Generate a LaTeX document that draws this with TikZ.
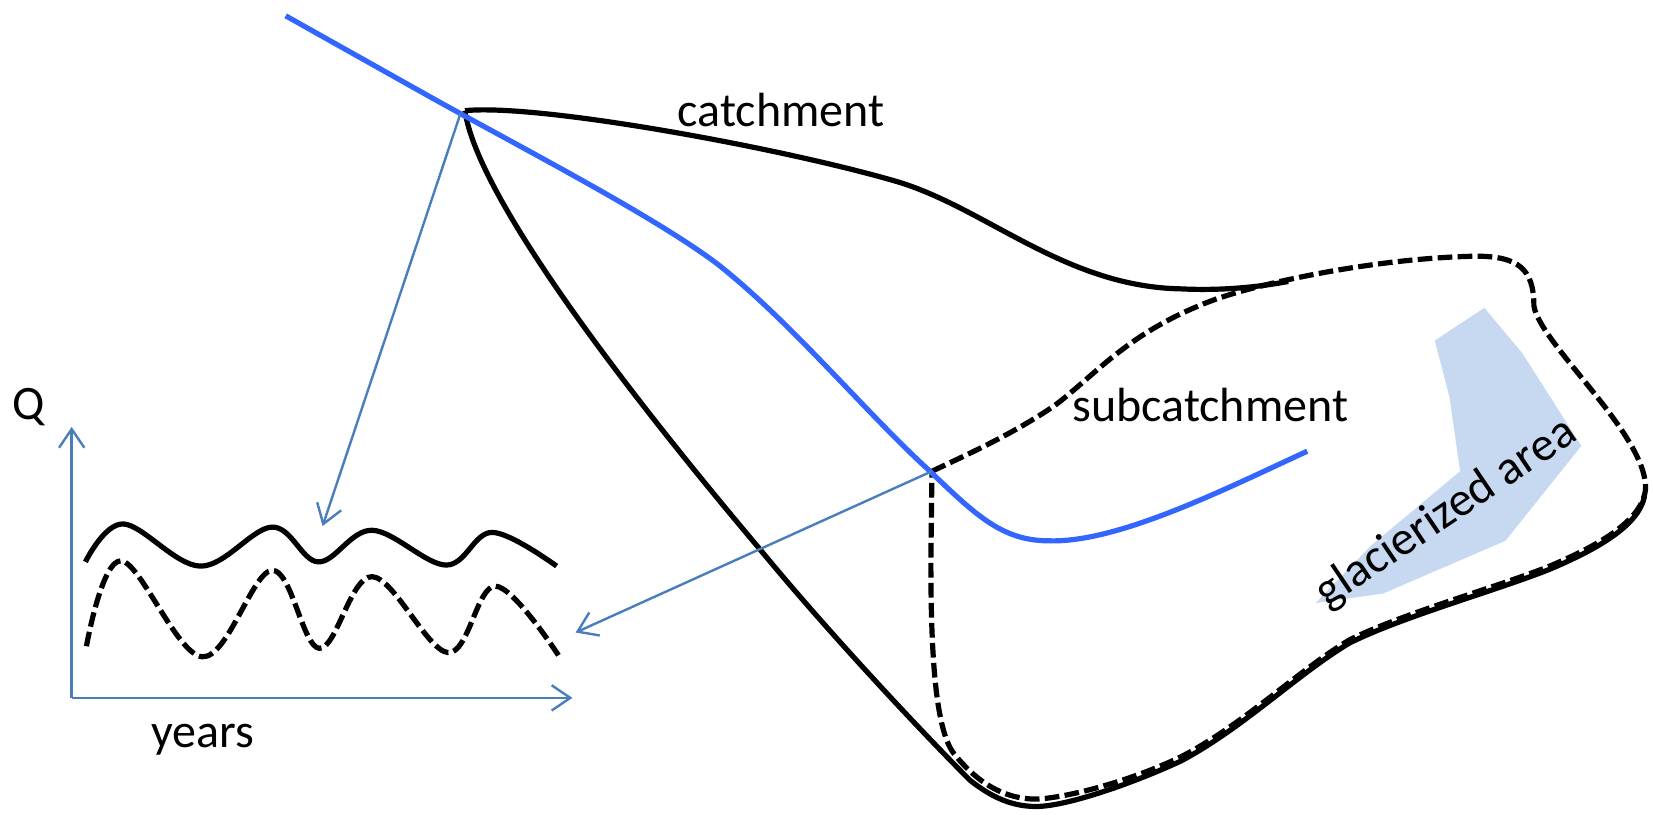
\documentclass[tikz,border=0pt]{standalone}
\usepackage{fontspec}
\setmainfont{Carlito}
\usetikzlibrary{arrows.meta}
\definecolor{river}{HTML}{3366FF}
\definecolor{axisblue}{HTML}{4A7EBB}
\definecolor{ice}{HTML}{C6D9F1}
\tikzset{
  blackline/.style={black,line width=3.9pt,line join=round},
  dashline/.style={black,line width=3.9pt,dash pattern=on 11pt off 4pt,line join=round},
  riverline/.style={river,line width=3.9pt,line join=round},
  pointer/.style={axisblue,line width=1.8pt,-{Straight Barb[length=14pt,width=19pt,line width=1.8pt]}},
  label/.style={font=\fontsize{36}{40}\selectfont,inner sep=0pt,text=black},
}
\begin{document}
\begin{tikzpicture}[x=0.79065pt,y=-0.79065pt]
\useasboundingbox (0,0) rectangle (1568,773);
\coordinate (outlet) at (437,107);
\coordinate (suboutlet) at (884,447);
\coordinate (origin) at (68,662);
\coordinate (qtop) at (68,405);
\coordinate (yearsend) at (543,662);
\coordinate (solidtarget) at (306,499);
\coordinate (dashtarget) at (546,600);
% glacier
\fill[ice] (1361,323) -- (1408,292) -- (1444,335) -- (1500,423) -- (1428,513) -- (1312,563) -- (1248,572) -- (1300,518) -- (1385,447) -- (1375,377) -- cycle;
% catchment, solid
\draw[blackline] (441,105) .. controls (510,98) and (740,140) .. (850,172)
  .. controls (935,197) and (1010,272) .. (1120,274)
  .. controls (1160,276) and (1195,272) .. (1222,267);
\draw[blackline] (441,105) .. controls (455,200) and (640,425) .. (720,520)
  .. controls (790,605) and (880,700) .. (920,740)
  .. controls (945,760) and (965,765) .. (983,765)
  .. controls (1010,765) and (1070,745) .. (1120,722)
  .. controls (1180,690) and (1230,640) .. (1280,610)
  .. controls (1330,585) and (1420,560) .. (1470,540)
  .. controls (1510,523) and (1555,500) .. (1560,470);
% subcatchment, dashed
\draw[dashline] (suboutlet) .. controls (920,430) and (960,412) .. (1000,385)
  .. controls (1040,355) and (1070,315) .. (1150,285)
  .. controls (1190,270) and (1300,245) .. (1400,243)
  .. controls (1440,243) and (1455,255) .. (1455,290)
  .. controls (1460,325) and (1560,410) .. (1561,462)
  .. controls (1560,495) and (1510,520) .. (1470,537)
  .. controls (1420,557) and (1330,582) .. (1280,607)
  .. controls (1230,637) and (1180,687) .. (1120,718)
  .. controls (1070,742) and (1010,757) .. (983,758)
  .. controls (950,758) and (925,740) .. (905,715)
  .. controls (885,690) and (883,600) .. (883,530)
  -- (suboutlet);
% river
\draw[riverline] (271,15) -- (410,93)
  .. controls (500,143) and (620,205) .. (680,250)
  .. controls (750,305) and (820,390) .. (880,445)
  .. controls (925,488) and (950,513) .. (995,513)
  .. controls (1060,515) and (1160,465) .. (1240,428);
% pointers
\draw[pointer] (outlet) -- (solidtarget);
\draw[pointer] (suboutlet) -- (dashtarget);
\draw[pointer] (origin) -- (qtop);
\draw[pointer] (origin) -- (yearsend);
% hydrographs
\draw[blackline] plot[smooth,tension=0.6] coordinates {(81,533) (117,497) (190,537) (258,500) (302,533) (353,503) (423,536) (467,505) (528,537)};
\draw[dashline] plot[smooth,tension=0.6] coordinates {(82,613) (115,532) (192,623) (258,541) (303,615) (353,547) (425,619) (470,556) (530,622)};
% labels
\node[label] (qlabel) at (27,386) {Q};
\node[label] (yearslabel) at (192,702) {years};
\node[label] (catchlabel) at (741,104) {catchment};
\node[label] (sublabel) at (1148,384) {subcatchment};
\node[label,rotate=34] (glacierlabel) at (1372,487) {glacierized area};
\end{tikzpicture}
\end{document}
